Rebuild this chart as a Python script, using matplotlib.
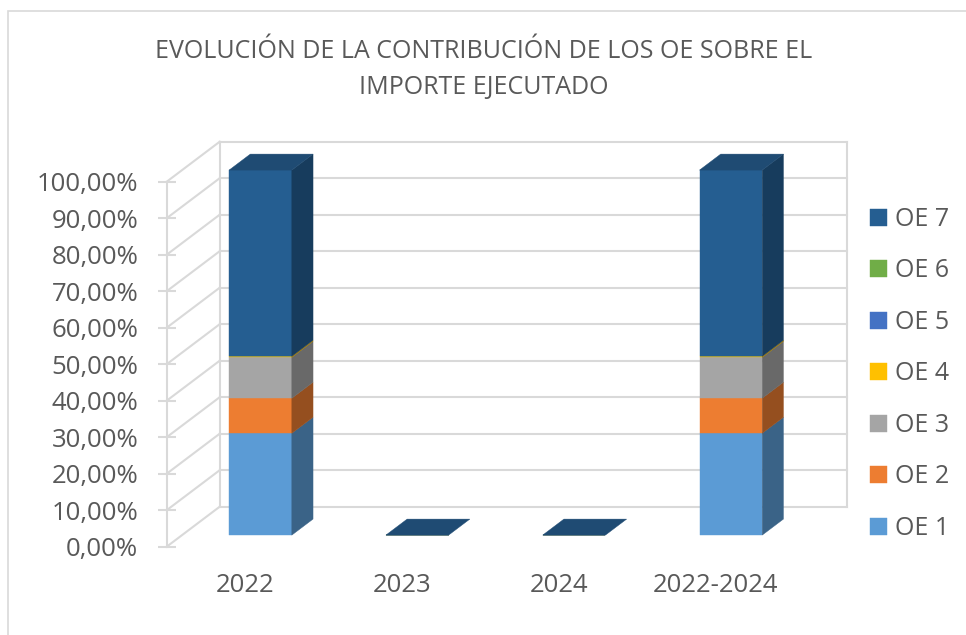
import matplotlib.pyplot as plt
from matplotlib.patches import Polygon, Rectangle
from matplotlib.ticker import FuncFormatter

# data (share of executed amount, %)
categories = ["2022", "2023", "2024", "2022-2024"]
series_names = ["OE 1", "OE 2", "OE 3", "OE 4", "OE 5", "OE 6", "OE 7"]
oe1 = [27.9, 0, 0, 27.9]
oe2 = [9.6, 0, 0, 9.6]
oe3 = [11.2, 0, 0, 11.2]
oe4 = [0.3, 0, 0, 0.3]
oe5 = [0.0, 0, 0, 0.0]
oe6 = [0.0, 0, 0, 0.0]
oe7 = [51.0, 0, 0, 51.0]
series = [oe1, oe2, oe3, oe4, oe5, oe6, oe7]

# front / side / top shades per series (Excel 3D look)
front_cols = ["#5B9BD5", "#ED7D31", "#A5A5A5", "#FFC000", "#4472C4", "#70AD47", "#255E91"]
side_cols = ["#3A6387", "#954F1F", "#696969", "#A17A00", "#2B4A80", "#476E2D", "#173C5D"]
top_col = "#1F4B73"

TXT = "#595959"
GRID = "#D9D9D9"
plt.rcParams["font.family"] = ["Open Sans", "DejaVu Sans"]

# 3D projection offsets in data units
DX, DY = 0.338, 10.96      # depth of the walls
F0, FD = 0.29, 0.40        # bar front depth, bar depth
BW = 0.40

fig = plt.figure(figsize=(9.66, 6.35), dpi=100)
fig.patches.append(Rectangle((8.3 / 966, -0.1), 1.2, 1.1 - 11 / 635, transform=fig.transFigure,
                             fill=False, edgecolor=GRID, lw=1.2))
ax = fig.add_axes([0.17257, 0.13906, 0.64928, 0.57480])
ax.set_xlim(-0.5, 3.5)
ax.set_ylim(0, 100)
ax.patch.set_alpha(0)

# walls + gridlines
x0, x1 = -0.5, len(categories) - 0.5
for v in range(0, 101, 10):
    ax.plot([x0 + DX, x1 + DX], [v + DY, v + DY], color=GRID, lw=1.5, clip_on=False, zorder=1)
    ax.plot([x0, x0 + DX], [v, v + DY], color=GRID, lw=1.5, clip_on=False, zorder=1)
for xx in (x0 + DX, x1 + DX):
    ax.plot([xx, xx], [DY, 100 + DY], color=GRID, lw=1.5, clip_on=False, zorder=1)

# stacked 3D columns
fx, fy = F0 * DX, F0 * DY
ddx, ddy = FD * DX, FD * DY
bottoms = [0.0] * len(categories)
for k, vals in enumerate(series):
    xs = [i + fx for i in range(len(categories))]
    ax.bar(xs, vals, width=BW, bottom=[b + fy for b in bottoms], color=front_cols[k],
           edgecolor=front_cols[k], lw=0.3, zorder=3, clip_on=False, label=series_names[k])
    for i, v in enumerate(vals):
        if v <= 0:
            continue
        xr = i + fx + BW / 2
        b, t = bottoms[i] + fy, bottoms[i] + v + fy
        ax.add_patch(Polygon([(xr, b), (xr + ddx, b + ddy), (xr + ddx, t + ddy), (xr, t)],
                             closed=True, facecolor=side_cols[k], edgecolor=side_cols[k],
                             lw=0.3, zorder=3, clip_on=False))
    bottoms = [b + v for b, v in zip(bottoms, vals)]

for i, tot in enumerate(bottoms):
    xl, xr = i + fx - BW / 2, i + fx + BW / 2
    t = tot + fy
    ax.add_patch(Polygon([(xl, t), (xr, t), (xr + ddx, t + ddy), (xl + ddx, t + ddy)],
                         closed=True, facecolor=top_col, edgecolor=top_col, lw=0.3,
                         zorder=4, clip_on=False))

# axes styling
for s in ("top", "right", "bottom"):
    ax.spines[s].set_visible(False)
ax.spines["left"].set_color(GRID)
ax.spines["left"].set_linewidth(1.5)
ax.set_yticks(range(0, 101, 10))
ax.yaxis.set_major_formatter(FuncFormatter(lambda v, p: f"{v:.2f}".replace(".", ",") + "%"))
ax.tick_params(axis="y", direction="inout", length=13, width=1.5, color=GRID,
               labelcolor=TXT, labelsize=18.5, pad=14)
ax.set_xticks(range(len(categories)))
ax.set_xticklabels(categories)
ax.tick_params(axis="x", length=0, labelcolor=TXT, labelsize=18.5, pad=19)

fig.text(483.5 / 966, 1 - 39 / 635,
         "EVOLUCIÓN DE LA CONTRIBUCIÓN DE LOS OE SOBRE EL\nIMPORTE EJECUTADO",
         ha="center", va="top", fontsize=18, color=TXT, linespacing=1.6)

h, l = ax.get_legend_handles_labels()
leg = fig.legend(h[::-1], l[::-1], loc="upper left", bbox_to_anchor=(870 / 966, 1 - 207 / 635),
                 frameon=False, fontsize=18, labelcolor=TXT, handlelength=0.67,
                 handleheight=0.67, handletextpad=0.33, labelspacing=1.06, borderpad=0,
                 borderaxespad=0)

fig.savefig("out.png", dpi=100)
